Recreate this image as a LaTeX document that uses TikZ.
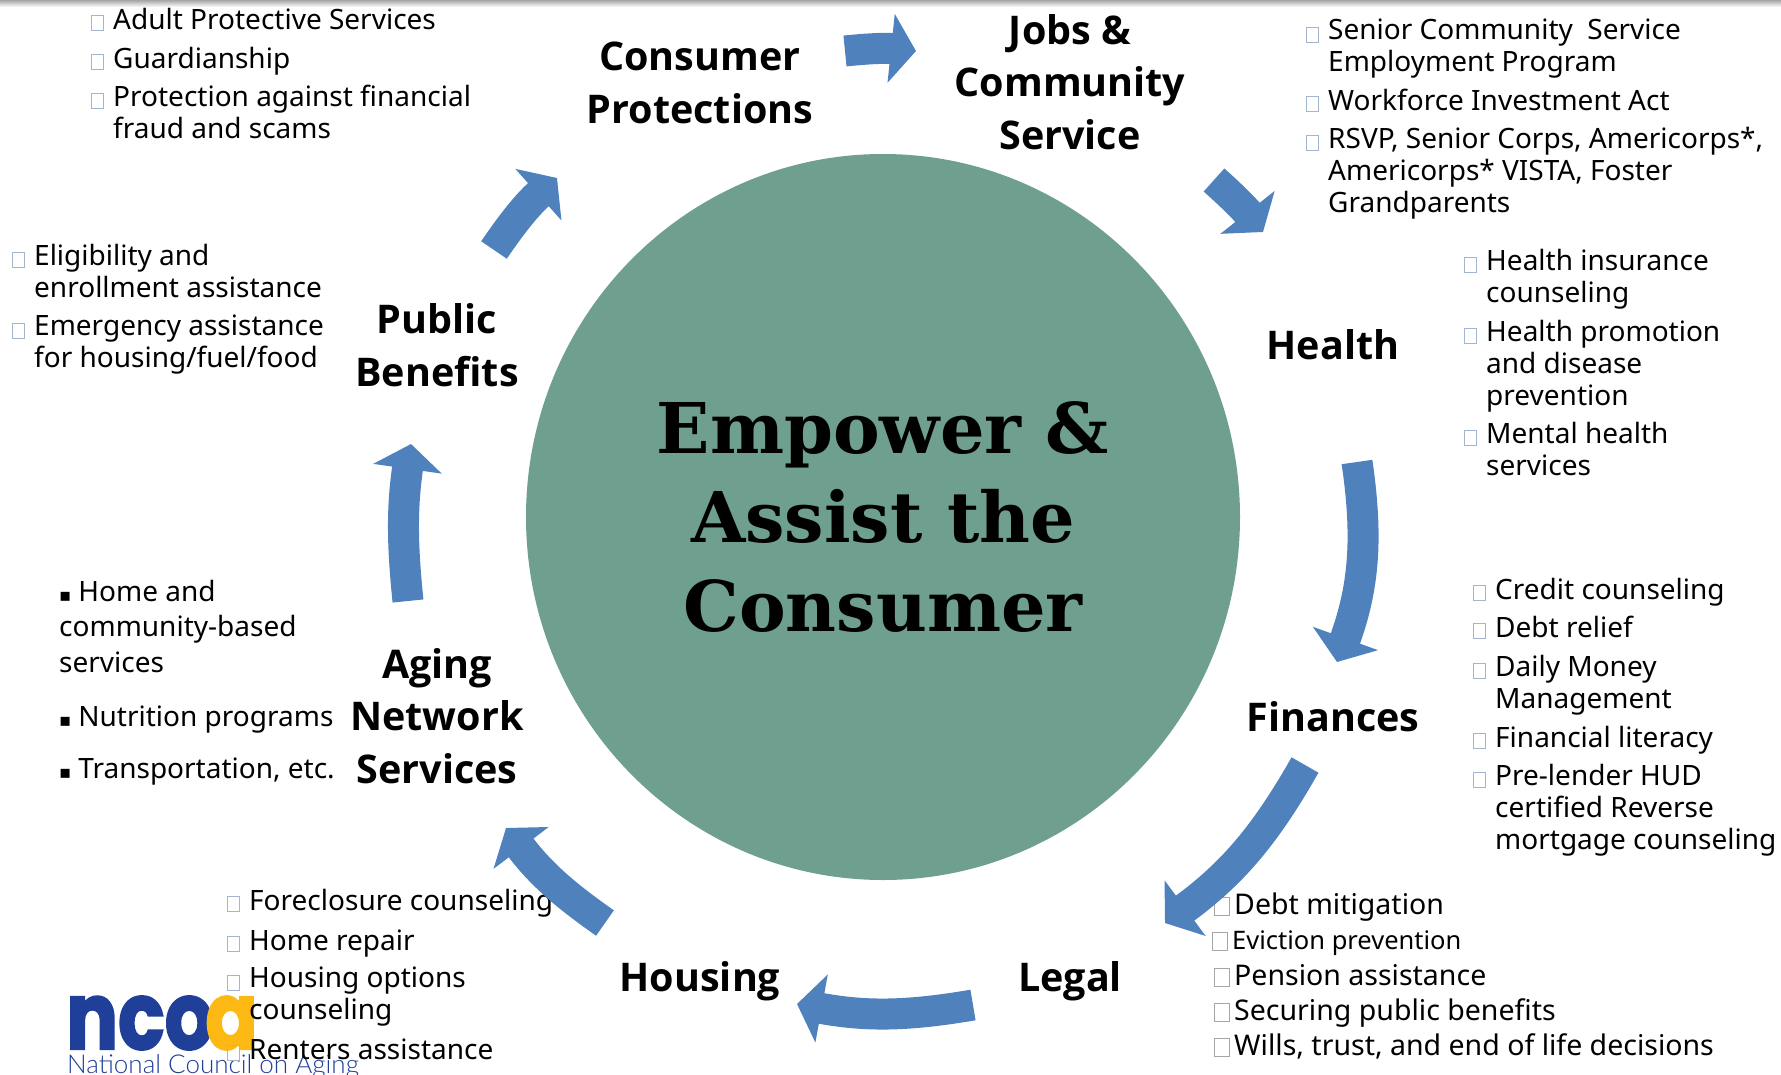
\documentclass[tikz,border=0pt]{standalone}
\usepackage{fontspec}
\setmainfont{Noto Sans}
\newfontfamily\topicfont{Open Sans}
\newfontfamily\hubfont{DejaVu Serif}
\newfontfamily\symfont{DejaVu Sans}
\newfontfamily\logofont[FakeBold=2, FakeStretch=0.82]{Poppins}
\newfontfamily\logothin{Lato Light}
\newcommand{\agemark}{{\symfont\fontsize{18}{18}\selectfont▪}\hspace{7pt}}
\usetikzlibrary{arrows.meta, shapes.geometric}
\definecolor{hubgreen}{HTML}{6FA08F}
\definecolor{flowblue}{HTML}{4F81BD}
\definecolor{boxblue}{HTML}{A3B5CF}
\definecolor{logoblue}{HTML}{1F3F99}
\definecolor{logoyellow}{HTML}{FDB913}
\tikzset{
    hubcircle/.style={ellipse, fill=hubgreen, minimum width=714pt, minimum height=726pt, inner sep=0pt, align=center,
        font=\hubfont\bfseries\fontsize{70}{89}\selectfont},
    topic/.style={align=center, inner sep=0pt, font=\topicfont\bfseries\fontsize{39.5}{52.7}\selectfont},
    listitem/.style={anchor=north west, align=left, inner sep=0pt,
        font=\fontsize{28}{32}\selectfont, execute at begin node=\strut},
    blueitem/.style={listitem, label={[bluebox]north west:{}}},
    legalitem/.style={listitem, font=\fontsize{28.5}{32}\selectfont, label={[greybox]north west:{}}},
    bluebox/.style={draw=boxblue, line width=1pt, inner sep=0pt, minimum width=12pt, minimum height=15pt,
        anchor=north east, xshift=-9pt, yshift=-8pt},
    greybox/.style={draw=gray!70, line width=1pt, inner sep=0pt, minimum width=15pt, minimum height=18pt,
        anchor=north east, xshift=-4pt, yshift=-5pt},
    flow/.style={draw=flowblue, line width=31pt, -{Triangle[length=25pt, width=68pt, fill=flowblue]}}
}
\begin{document}
\begin{tikzpicture}[x=1pt, y=-1pt]
    \useasboundingbox (0,0) rectangle (1781,1074);
    \shade[top color=black!35, bottom color=white] (0,0) rectangle (1781,7);

    % logo sits under the housing list
    \node(nco)   at (66,1023) [anchor=west, inner sep=0pt, text=logoblue]
        {\logofont\bfseries\fontsize{94}{94}\selectfont nco};
    \node(ya)    at (258,1023) [anchor=east, inner sep=0pt, text=logoyellow]
        {\logofont\bfseries\fontsize{94}{94}\selectfont a};
    \node(ncoa)  at (67,1073) [anchor=base west, inner sep=0pt, text=logoblue]
        {\logothin\fontsize{26}{26}\selectfont National Council on Aging};

    \node(hub) at (883,517) [hubcircle] {Empower \&\\Assist the\\Consumer};

    \node(prot)  at (700,  83) [topic] {Consumer\\Protections};
    \node(jobs)  at (1070, 82) [topic] {Jobs \&\\Community\\Service};
    \node(hlth)  at (1333,345) [topic] {Health};
    \node(fin)   at (1333,717) [topic] {Finances};
    \node(legal) at (1070,981) [topic] {Legal};
    \node(house) at (700, 981) [topic] {Housing};
    \node(aging) at (437, 716) [topic] {Aging\\Network\\Services};
    \node(pub)   at (437, 345) [topic] {Public\\Benefits};

    \node(prot1) at (113,  7) [blueitem] {Adult Protective Services};
    \node(prot2) at (113, 46) [blueitem] {Guardianship};
    \node(prot3) at (113, 85) [blueitem] {Protection against financial\\fraud and scams};

    \node(pub1)  at (34, 244) [blueitem] {Eligibility and\\enrollment assistance};
    \node(pub2)  at (34, 315) [blueitem] {Emergency assistance\\for housing/fuel/food};

    \node(jobs1) at (1328, 19) [blueitem] {Senior Community\ \ Service\\Employment Program};
    \node(jobs2) at (1328, 88) [blueitem] {Workforce Investment Act};
    \node(jobs3) at (1328,127) [blueitem] {RSVP, Senior Corps, Americorps*,\\Americorps* VISTA, Foster\\Grandparents};

    \node(hlth1) at (1486,249) [blueitem] {Health insurance\\counseling};
    \node(hlth2) at (1486,320) [blueitem] {Health promotion\\and disease\\prevention};
    \node(hlth3) at (1486,422) [blueitem] {Mental health\\services};

    \node(fin1)  at (1495,577) [blueitem] {Credit counseling};
    \node(fin2)  at (1495,615) [blueitem] {Debt relief};
    \node(fin3)  at (1495,655) [blueitem] {Daily Money\\Management};
    \node(fin4)  at (1495,725) [blueitem] {Financial literacy};
    \node(fin5)  at (1495,764) [blueitem] {Pre-lender HUD\\certified Reverse\\mortgage counseling};

    \node(legal1) at (1234,892) [legalitem] {Debt mitigation};
    \node(legal2) at (1232,927) [legalitem, font=\fontsize{25.5}{32}\selectfont] {Eviction prevention};
    \node(legal3) at (1234,963) [legalitem] {Pension assistance};
    \node(legal4) at (1234,998) [legalitem] {Securing public benefits};
    \node(legal5) at (1234,1033) [legalitem] {Wills, trust, and end of life decisions};

    \node(house1) at (249,888) [blueitem] {Foreclosure counseling};
    \node(house2) at (249,928) [blueitem] {Home repair};
    \node(house3) at (249,967) [blueitem] {Housing options\\counseling};
    \node(house4) at (249,1037) [blueitem] {Renters assistance};

    \node(aging1) at (59,580) [listitem, font=\fontsize{28}{35.5}\selectfont] {\agemark Home and\\community-based\\services};
    \node(aging2) at (59,704) [listitem] {\agemark Nutrition programs};
    \node(aging3) at (59,756) [listitem] {\agemark Transportation, etc.};

    \coordinate(s1) at (845,51);   \coordinate(e1) at (916,51);
    \coordinate(s2) at (1214,180); \coordinate(e2) at (1263,232);
    \coordinate(s3) at (1357,462); \coordinate(e3) at (1337,662);
    \coordinate(s4) at (1305,765); \coordinate(e4) at (1165,923);
    \coordinate(s5) at (973,1005); \coordinate(e5) at (797,1004);
    \coordinate(s6) at (605,923);  \coordinate(e6) at (506,828);
    \coordinate(s7) at (408,601);  \coordinate(e7) at (411,444);
    \coordinate(s8) at (494,250);  \coordinate(e8) at (557,178);

    \draw[flow] (s1) to[bend left=6]  (e1);
    \draw[flow] (s2) to[bend left=5]  (e2);
    \draw[flow] (s3) to[bend left=14] (e3);
    \draw[flow] (s4) to[bend left=12] (e4);
    \draw[flow] (s5) to[bend left=10] (e5);
    \draw[flow] (s6) to[bend left=9]  (e6);
    \draw[flow] (s7) to[bend left=7]  (e7);
    \draw[flow] (s8) to[bend left=7]  (e8);
\end{tikzpicture}
\end{document}
